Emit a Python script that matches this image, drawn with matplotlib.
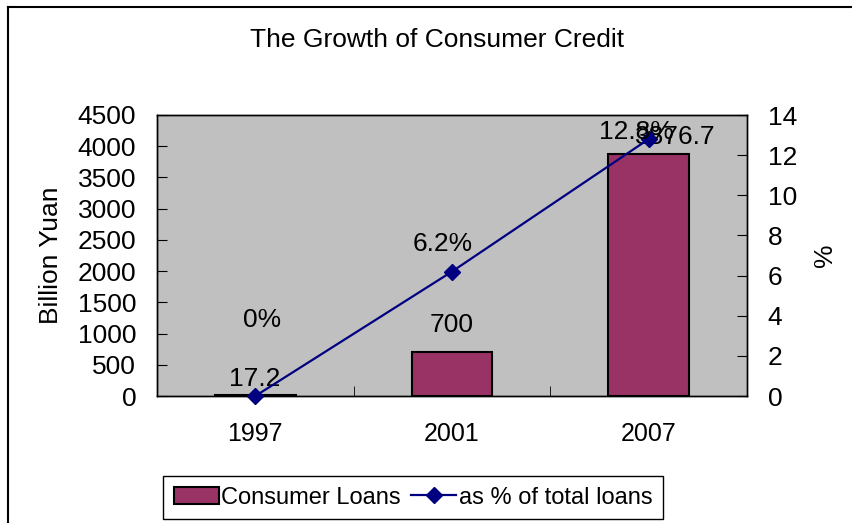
import matplotlib
matplotlib.use("Agg")
import matplotlib.pyplot as plt
from matplotlib.lines import Line2D
from matplotlib.patches import Patch

years = ["1997", "2001", "2007"]
loans = [17.2, 700, 3876.7]
loan_labels = ["17.2", "700", "3876.7"]
share = [0, 6.2, 12.8]
share_labels = ["0%", "6.2%", "12.8%"]

plt.rcParams['font.family'] = ['Liberation Sans', 'DejaVu Sans']
FS = 19

fig = plt.figure(figsize=(8.53, 5.23), dpi=100)
ax = fig.add_axes([157/853, 1-396/523, 590/853, 281/523])
ax.set_facecolor('#C0C0C0')

x = list(range(len(years)))
ax.bar(x, loans, width=0.41, color='#993366', edgecolor='black', linewidth=1.5, zorder=2)
ax.set_xlim(-0.5, 2.5)
ax.set_ylim(0, 4500)
ax.set_yticks(range(0, 4501, 500))
ax.set_xticks(x)
ax.set_xticklabels(years)
ax.set_xticks([0.5, 1.5], minor=True)
ax.tick_params(axis='x', which='major', length=0, pad=19, labelsize=18)
ax.tick_params(axis='x', which='minor', direction='in', length=7)
ax.tick_params(axis='y', direction='in', length=7, pad=15, labelsize=FS)
ax.set_ylabel('Billion Yuan', fontsize=FS)
ax.yaxis.set_label_coords(-0.159, 0.5)

ax2 = ax.twinx()
ax2.plot(x, share, color='#000080', linewidth=1.6, marker='D', markersize=8,
         clip_on=False, zorder=3)
ax2.set_ylim(0, 14)
ax2.set_yticks(range(0, 15, 2))
ax2.tick_params(axis='y', direction='in', length=7, pad=15, labelsize=FS)
ax2.set_ylabel('%', fontsize=FS)
ax2.yaxis.set_label_coords(1.112, 0.5)

for a in (ax, ax2):
    for s in a.spines.values():
        s.set_color('black')
        s.set_linewidth(1)

# data labels (offsets in pixels, some moved by hand in the original)
bar_off = [(-1, 16), (0, 27), (27, 17)]
for i, v in enumerate(loans):
    ax.annotate(loan_labels[i], (x[i], v), xytext=bar_off[i], textcoords='offset pixels',
                ha='center', va='center', fontsize=FS, zorder=5)
pct_off = [(7, 76), (-9, 28), (-12, 7)]
for i, v in enumerate(share):
    ax2.annotate(share_labels[i], (x[i], v), xytext=pct_off[i], textcoords='offset pixels',
                 ha='center', va='center', fontsize=FS, zorder=5)

fig.text(437/853, 1-40/523, 'The Growth of Consumer Credit', ha='center', va='center', fontsize=FS)

handles = [Patch(facecolor='#993366', edgecolor='black', linewidth=1.5),
           Line2D([], [], color='#000080', linewidth=1.6, marker='D', markersize=8)]
leg = fig.legend(handles, ['Consumer Loans', 'as % of total loans'], ncol=2,
                 loc='center', bbox_to_anchor=(413/853, 1-497.5/523), fontsize=17,
                 fancybox=False, framealpha=1, edgecolor='black', borderpad=0.45,
                 borderaxespad=0, handlelength=1.9, handletextpad=0.1, columnspacing=0.45)
leg.get_frame().set_linewidth(1)

# outer chart border
fig.add_artist(Line2D([8/853, 1], [1-7/523, 1-7/523], color='black', linewidth=1.5))
fig.add_artist(Line2D([8/853, 8/853], [0, 1-7/523], color='black', linewidth=1.5))

fig.savefig('out.png', dpi=100)
